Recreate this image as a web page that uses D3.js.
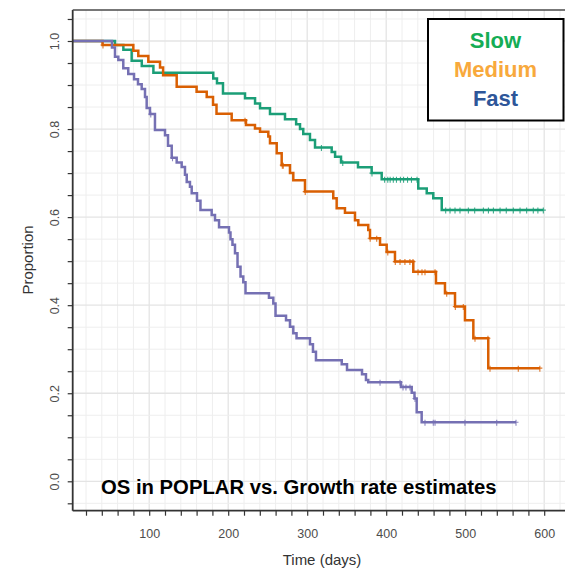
<!DOCTYPE html>
<html>
<head>
<meta charset="utf-8">
<script src="https://cdn.jsdelivr.net/npm/d3@7"></script>
<style>
  html, body { margin: 0; padding: 0; background: #fff; }
  svg { display: block; font-family: "Liberation Sans", Arial, sans-serif; }
</style>
</head>
<body>
<svg id="chart" width="565" height="569"></svg>
<script>
// Kaplan-Meier overall survival by tumour growth-rate group.
// Each series: event times (days), survival after each event, censoring times.
const seriesNames = ["Slow", "Medium", "Fast"];

const slowTime = [0, 56.7, 67.3, 77.8, 90.6, 105.3, 181.1, 185.8, 193.4, 221.3, 234.0, 240.3, 252.9,
  271.9, 286.0, 290.9, 295.0, 303.5, 309.9, 331.0, 335.3, 342.8, 364.3, 381.6, 394.3, 440.6, 451.3, 459.6, 470.3];
const slowSurv = [1, 0.991, 0.980, 0.955, 0.943, 0.928, 0.915, 0.904, 0.881, 0.870, 0.858, 0.847, 0.834,
  0.822, 0.811, 0.800, 0.789, 0.775, 0.758, 0.748, 0.737, 0.724, 0.713, 0.700, 0.686, 0.665, 0.654, 0.643, 0.616];
const slowCensor = [318, 345, 382, 398, 402, 405, 409, 413, 418, 422, 427, 432, 439, 475.3, 480.8, 487.1, 493.4,
  504, 512, 523, 529.4, 535.7, 544.1, 552, 560.9, 569.4, 577.8, 586.2, 592, 598.9];

const mediumTime = [0, 40.9, 79.9, 86.2, 98.9, 113.7, 117.6, 134.8, 160.0, 172.8, 180.8, 185.2, 204.4, 222.5,
  233.9, 240.3, 250.8, 252.9, 261.4, 267.7, 278.2, 282.4, 297.2, 333.0, 337.3, 347.8, 360.5, 364.7, 377.3, 379.5,
  392.2, 400.6, 411.1, 434.3, 463.0, 474.4, 487.1, 499.7, 510.3, 529.2];
const mediumSurv = [1, 0.991, 0.978, 0.966, 0.953, 0.940, 0.922, 0.896, 0.885, 0.873, 0.855, 0.835, 0.820, 0.809,
  0.801, 0.794, 0.783, 0.768, 0.745, 0.718, 0.700, 0.684, 0.658, 0.643, 0.620, 0.610, 0.593, 0.582, 0.571, 0.552,
  0.537, 0.521, 0.499, 0.476, 0.450, 0.427, 0.397, 0.366, 0.325, 0.257];
const mediumCensor = [41.5, 221.3, 268.5, 269.7, 297.5, 379.7, 388, 402, 411.5, 417.5, 423.7, 430, 433.9, 440.3,
  445.3, 449.1, 461.8, 476.6, 487.5, 497.6, 512.4, 528.8, 531.4, 567.2, 594.5];

const fastTime = [0, 52.9, 56.7, 60.9, 67.2, 73.5, 80.8, 85.8, 90.5, 94.7, 96.8, 101.0, 107.3, 120.0, 123.8,
  128.5, 134.8, 141.1, 145.3, 147.5, 151.6, 153.8, 160.5, 164.9, 179.1, 183.3, 188.4, 201.0, 202.9, 205.4, 208.6,
  211.8, 215.6, 219.1, 221.9, 251.6, 257.1, 259.9, 273.2, 278.2, 282.4, 286.5, 303.5, 307.3, 311.1, 343.7, 350.4,
  369.4, 374.4, 377.3, 418.7, 432.3, 435.8, 438.6, 444.9];
const fastSurv = [1, 0.985, 0.964, 0.957, 0.938, 0.925, 0.913, 0.902, 0.891, 0.873, 0.848, 0.834, 0.798, 0.786,
  0.762, 0.735, 0.724, 0.714, 0.696, 0.680, 0.669, 0.654, 0.637, 0.616, 0.605, 0.593, 0.577, 0.565, 0.550, 0.537,
  0.518, 0.487, 0.465, 0.452, 0.427, 0.417, 0.404, 0.376, 0.366, 0.351, 0.336, 0.325, 0.311, 0.294, 0.275, 0.266,
  0.253, 0.243, 0.230, 0.225, 0.214, 0.201, 0.188, 0.157, 0.134];
const fastCensor = [102, 129.5, 392.2, 417.5, 421.3, 425, 430.1, 436.5, 449.1, 459.6, 461.8, 499.7, 539.9, 564.3];

const xTickLabels = [100, 200, 300, 400, 500, 600];
const yTickLabels = [0.0, 0.2, 0.4, 0.6, 0.8, 1.0];
const titleText = "OS in POPLAR vs. Growth rate estimates";
const xTitle = "Time (days)";
const yTitle = "Proportion";

const lineColors = ["#1b9e77", "#d95f02", "#7570b3"];
const legendColors = ["#14ad55", "#f8a93c", "#2e5699"];

const series = [
  { name: seriesNames[0], time: slowTime, surv: slowSurv, censor: slowCensor },
  { name: seriesNames[1], time: mediumTime, surv: mediumSurv, censor: mediumCensor },
  { name: seriesNames[2], time: fastTime, surv: fastSurv, censor: fastCensor }
];

const svg = d3.select("#chart");
const plot = { left: 72.7, right: 600, top: 10, bottom: 510.7 };

const x = d3.scaleLinear().domain([0, 600]).range([70.2, 544.2]);
const y = d3.scaleLinear().domain([0, 1]).range([481.3, 41]);

// Grid: every 20 days and every 0.05
const xGrid = d3.range(20, 661, 20);
const yGrid = d3.range(-0.05, 1.0501, 0.05).map(v => +v.toFixed(2));
const isMajorY = d => Math.abs(d * 5 - Math.round(d * 5)) < 1e-6;

const grid = svg.append("g");
grid.selectAll("line.vx").data(xGrid).join("line")
  .attr("x1", d => x(d)).attr("x2", d => x(d))
  .attr("y1", plot.top).attr("y2", plot.bottom)
  .attr("stroke", d => d % 100 === 0 ? "#e4e4e4" : "#eeeeee")
  .attr("stroke-width", d => d % 100 === 0 ? 1.3 : 1);
grid.selectAll("line.hy").data(yGrid).join("line")
  .attr("x1", plot.left).attr("x2", plot.right)
  .attr("y1", d => y(d)).attr("y2", d => y(d))
  .attr("stroke", d => isMajorY(d) ? "#e4e4e4" : "#eeeeee")
  .attr("stroke-width", d => isMajorY(d) ? 1.3 : 1);

// Survival curves
svg.append("defs").append("clipPath").attr("id", "clip")
  .append("rect").attr("x", plot.left).attr("y", plot.top)
  .attr("width", plot.right - plot.left).attr("height", plot.bottom - plot.top);

const line = d3.line().x(d => x(d[0])).y(d => y(d[1])).curve(d3.curveStepAfter);
const survAt = (s, t) => s.surv[Math.max(0, d3.bisectRight(s.time, t) - 1)];

const curves = svg.append("g").attr("clip-path", "url(#clip)");
series.forEach((s, i) => {
  const end = d3.max(s.censor);
  const pts = s.time.map((t, k) => [t, s.surv[k]]);
  pts.push([end, s.surv[s.surv.length - 1]]);
  curves.append("path")
    .datum(pts)
    .attr("d", line)
    .attr("fill", "none")
    .attr("stroke", lineColors[i])
    .attr("stroke-width", 2.5)
    .attr("stroke-linejoin", "miter");
  curves.append("g").selectAll("path").data(s.censor).join("path")
    .attr("d", t => {
      const cx = x(t), cy = y(survAt(s, t));
      return `M${cx - 2.5},${cy}H${cx + 2.5}M${cx},${cy - 2.5}V${cy + 3.5}`;
    })
    .attr("stroke", lineColors[i])
    .attr("stroke-opacity", 0.85)
    .attr("stroke-width", 1.1)
    .attr("fill", "none");
});

// Axes
const xAxis = d3.axisBottom(x)
  .tickValues(d3.range(20, 620, 20))
  .tickSize(5).tickSizeOuter(0)
  .tickFormat(d => xTickLabels.includes(d) ? String(d) : "");
const gx = svg.append("g").attr("transform", `translate(0,${plot.bottom})`).call(xAxis);
gx.select(".domain").attr("d", `M${plot.left},0H${plot.right}`).attr("stroke", "#333").attr("stroke-width", 1.8);
gx.selectAll(".tick line").attr("stroke", "#333").attr("stroke-width", 1.2);
gx.selectAll(".tick text").attr("y", 27.5).attr("dy", 0)
  .attr("fill", "#4d4d4d").style("font-size", "12.5px").style("font-family", "'Liberation Sans', Arial, sans-serif");

const yAxis = d3.axisLeft(y)
  .tickValues(yGrid)
  .tickSize(5).tickSizeOuter(0)
  .tickFormat(d => yTickLabels.some(v => Math.abs(v - d) < 1e-6) ? d.toFixed(1) : "");
const gy = svg.append("g").attr("transform", `translate(${plot.left},0)`).call(yAxis);
gy.select(".domain").attr("d", `M0,${plot.top}V${plot.bottom}`).attr("stroke", "#333").attr("stroke-width", 1.8);
gy.selectAll(".tick line").attr("stroke", "#333").attr("stroke-width", 1.2);
gy.selectAll(".tick text")
  .attr("transform", "rotate(-90)")
  .attr("x", 0).attr("y", -13.5).attr("dy", 0)
  .attr("text-anchor", "middle")
  .attr("fill", "#4d4d4d").style("font-size", "12.5px").style("font-family", "'Liberation Sans', Arial, sans-serif");

// Top border of the panel
svg.append("line")
  .attr("x1", plot.left).attr("x2", plot.right)
  .attr("y1", plot.top).attr("y2", plot.top)
  .attr("stroke", "#4a4a4a").attr("stroke-width", 1.6);

// Axis titles
svg.append("text")
  .attr("x", 322).attr("y", 565)
  .attr("text-anchor", "middle")
  .attr("fill", "#333").style("font-size", "15px")
  .text(xTitle);
svg.append("text")
  .attr("transform", "translate(32.5,260) rotate(-90)")
  .attr("text-anchor", "middle")
  .attr("fill", "#333").style("font-size", "15px")
  .text(yTitle);

// Chart title inside the panel
svg.append("text")
  .attr("x", 101).attr("y", 494)
  .attr("fill", "#000").style("font-size", "20.3px").style("font-weight", "bold")
  .text(titleText);

// Legend box
const legend = svg.append("g");
legend.append("rect")
  .attr("x", 428).attr("y", 19).attr("width", 135.5).attr("height", 101.5)
  .attr("fill", "#fff").attr("stroke", "#000").attr("stroke-width", 2);
const legendBaselines = [48.3, 77, 106];
legend.selectAll("text").data(seriesNames).join("text")
  .attr("x", 495.5).attr("y", (d, i) => legendBaselines[i])
  .attr("text-anchor", "middle")
  .attr("fill", (d, i) => legendColors[i])
  .style("font-size", "22px").style("font-weight", "bold")
  .text(d => d);
</script>
</body>
</html>
